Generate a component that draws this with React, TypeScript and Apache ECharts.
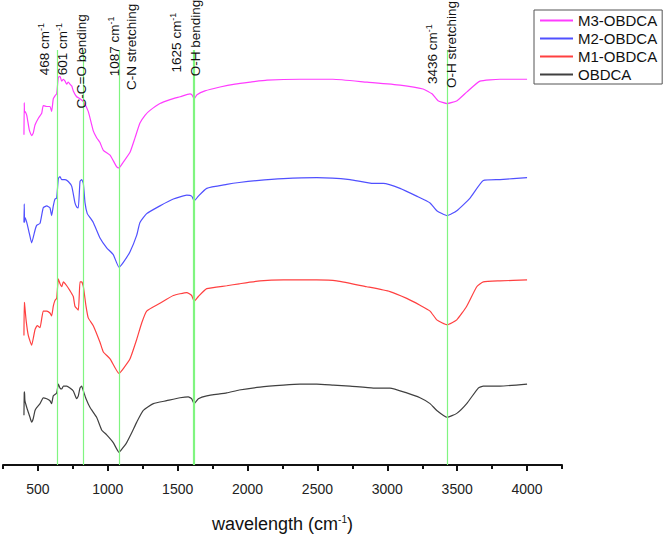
import React, { useEffect, useRef } from "react";
import * as echarts from "echarts";

// ---- data (wavenumber cm^-1, transmittance a.u. with vertical offsets) ----
const seriesNames = ["M3-OBDCA", "M2-OBDCA", "M1-OBDCA", "OBDCA"];
const seriesColors = ["#ff3cff", "#5050ff", "#ff4040", "#404040"];

const m3Spectrum = [
  [400, 339], [402, 372], [404, 362], [407, 363], [420, 359], [438, 344], [455, 338], [467, 341],
  [479, 349], [503, 356], [527, 361], [538, 369], [563, 368], [586, 368], [598, 363], [610, 376],
  [622, 379], [634, 381], [646, 398], [658, 399], [670, 394], [682, 396], [694, 394], [706, 391],
  [717, 393], [729, 391], [742, 389], [753, 384], [777, 378], [801, 376], [825, 373], [860, 363],
  [896, 343], [920, 336], [944, 331], [968, 323], [1016, 318], [1064, 306], [1080, 305], [1111, 311],
  [1159, 321], [1195, 336], [1230, 351], [1266, 359], [1302, 364], [1373, 371], [1445, 375], [1517, 378],
  [1588, 381], [1602, 380], [1618, 376], [1638, 380], [1695, 384], [1803, 388], [1910, 391], [2018, 393],
  [2139, 395], [2375, 396], [2611, 396], [2855, 393], [3091, 390], [3256, 386], [3320, 381], [3363, 374],
  [3428, 371], [3499, 374], [3570, 383], [3663, 394], [3806, 396], [4000, 396],
];

const m2Spectrum = [
  [400, 249], [402, 268], [404, 249], [407, 254], [420, 249], [438, 238], [455, 228], [479, 241],
  [491, 246], [515, 248], [538, 264], [563, 266], [586, 264], [598, 256], [610, 266], [622, 273],
  [634, 274], [646, 294], [658, 296], [670, 293], [694, 293], [717, 291], [742, 286], [765, 269],
  [777, 265], [789, 264], [801, 291], [813, 293], [825, 289], [837, 269], [853, 258], [873, 254],
  [896, 249], [944, 233], [992, 223], [1039, 216], [1080, 203], [1111, 208], [1159, 219], [1207, 236],
  [1230, 249], [1278, 258], [1373, 266], [1469, 273], [1565, 277], [1600, 276], [1618, 271], [1648, 276],
  [1708, 284], [1851, 288], [1940, 290], [2065, 292], [2256, 294], [2495, 295], [2733, 293], [2900, 289],
  [2971, 289], [3091, 284], [3210, 276], [3306, 269], [3354, 261], [3428, 256], [3497, 261], [3592, 274],
  [3687, 292], [3806, 293], [4000, 295],
];

const m1Spectrum = [
  [400, 133], [402, 167], [404, 166], [415, 149], [431, 133], [455, 123], [479, 139], [495, 143],
  [515, 141], [538, 158], [563, 158], [586, 156], [598, 153], [610, 163], [622, 169], [634, 171],
  [646, 191], [658, 186], [670, 183], [682, 188], [706, 184], [729, 179], [753, 173], [765, 163],
  [789, 159], [801, 188], [813, 188], [825, 183], [844, 163], [860, 151], [896, 143], [944, 126],
  [968, 116], [1016, 109], [1080, 94], [1111, 99], [1159, 109], [1207, 129], [1243, 146], [1278, 158],
  [1373, 166], [1469, 174], [1565, 177], [1600, 174], [1618, 168], [1648, 173], [1708, 181], [1851, 184],
  [1940, 186], [2089, 189], [2256, 190], [2495, 190], [2638, 189], [2853, 183], [3019, 178], [3139, 171],
  [3234, 164], [3306, 158], [3354, 149], [3428, 144], [3497, 149], [3568, 163], [3640, 183], [3687, 188],
  [3806, 189], [4000, 190],
];

const obdcaSpectrum = [
  [400, 51], [402, 74], [404, 75], [407, 66], [420, 59], [443, 49], [455, 44], [467, 48],
  [479, 56], [491, 59], [515, 63], [538, 69], [563, 68], [586, 66], [598, 63], [610, 71],
  [634, 74], [646, 83], [658, 79], [670, 78], [682, 81], [706, 81], [729, 79], [753, 76],
  [777, 68], [789, 71], [801, 79], [813, 81], [825, 76], [844, 68], [873, 59], [920, 49],
  [956, 36], [992, 31], [1039, 23], [1080, 13], [1099, 16], [1135, 23], [1171, 33], [1207, 44],
  [1254, 56], [1326, 63], [1421, 66], [1517, 69], [1576, 70], [1600, 68], [1618, 63], [1648, 68],
  [1708, 71], [1851, 74], [1940, 77], [2089, 80], [2256, 82], [2375, 83], [2495, 83], [2614, 82],
  [2733, 81], [2900, 79], [3019, 79], [3139, 74], [3234, 69], [3306, 63], [3354, 56], [3428, 49],
  [3497, 53], [3568, 63], [3651, 79], [3687, 81], [3806, 81], [4000, 83],
];

const spectra = [m3Spectrum, m2Spectrum, m1Spectrum, obdcaSpectrum];

const majorTicks = [500, 1000, 1500, 2000, 2500, 3000, 3500, 4000];
const minorTicks = [250, 750, 1250, 1750, 2250, 2750, 3250, 3750, 4250];

const peakLines = [640, 825, 1082, 1618, 3428];
const peakLineWidths = [1.2, 1.2, 1.2, 2.2, 1.2];

const annotationTexts = [
  "468 cm", "601 cm", "C-C=O bending", "1087 cm", "C-N stretching",
  "1625 cm", "O-H bending", "3436 cm", "O-H stretching",
];
const annotationSup = [true, true, false, true, false, true, false, true, false];
const annotationX = [550, 677, 815, 1051, 1173, 1495, 1624, 3325, 3461];
const annotationY = [400, 400, 366, 399, 385, 403, 399, 391, 387];

const FONT = "'Liberation Sans', Arial, Helvetica, sans-serif";

export default function App() {
  const ref = useRef<HTMLDivElement>(null);

  useEffect(() => {
    if (!ref.current) return;
    const chart = echarts.init(ref.current, undefined, { renderer: "svg" });

    const series: any[] = seriesNames.map((name, i) => ({
      name,
      type: "line",
      data: spectra[i],
      symbol: "none",
      showSymbol: false,
      smooth: 0.15,
      xAxisIndex: 0,
      yAxisIndex: 0,
      lineStyle: { color: seriesColors[i], width: 1.2 },
      itemStyle: { color: seriesColors[i] },
      z: 3,
    }));

    series.push({
      name: "peaks",
      type: "line",
      data: [],
      xAxisIndex: 0,
      yAxisIndex: 0,
      silent: true,
      z: 2,
      markLine: {
        silent: true,
        symbol: "none",
        label: { show: false },
        data: peakLines.map((w, i) => [
          { coord: [w, 426], lineStyle: { color: "#80f580", width: peakLineWidths[i], type: "solid" } },
          { coord: [w, 0] },
        ]),
      },
    });

    chart.setOption({
      animation: false,
      backgroundColor: "#ffffff",
      textStyle: { fontFamily: FONT },
      grid: { left: 3, right: 102, top: 50, bottom: 62, containLabel: false },
      legend: {
        data: seriesNames,
        orient: "vertical",
        left: 534,
        top: 10,
        padding: [3, 5, 2, 6],
        icon: "rect",
        itemWidth: 33,
        itemHeight: 2,
        itemGap: 3,
        borderColor: "#555",
        borderWidth: 1,
        borderRadius: 0,
        textStyle: { fontSize: 15, color: "#111", fontFamily: FONT },
      },
      xAxis: [
        {
          type: "value",
          min: 250,
          max: 4250,
          interval: 250,
          position: "bottom",
          name: "{a|wavelength (cm}{s|-1}{a|)}",
          nameLocation: "middle",
          nameGap: 49,
          nameTextStyle: {
            rich: {
              a: { fontSize: 18, color: "#111", fontFamily: FONT, lineHeight: 20 },
              s: { fontSize: 10, color: "#111", fontFamily: FONT, verticalAlign: "top", lineHeight: 20 },
            },
          },
          axisLine: { show: true, lineStyle: { color: "#111", width: 2 } },
          axisTick: {
            show: true,
            length: 6,
            customValues: majorTicks,
            lineStyle: { color: "#111", width: 2 },
          },
          axisLabel: {
            show: true,
            customValues: majorTicks,
            fontSize: 14,
            color: "#222",
            margin: 17,
            fontFamily: FONT,
            formatter: (v: number) => String(v),
          },
          splitLine: { show: false },
        },
        {
          type: "value",
          min: 250,
          max: 4250,
          interval: 250,
          position: "bottom",
          offset: 0,
          axisLine: { show: false },
          axisTick: {
            show: true,
            length: 4,
            customValues: minorTicks,
            lineStyle: { color: "#111", width: 2 },
          },
          axisLabel: { show: false },
          splitLine: { show: false },
        },
      ],
      yAxis: { type: "value", min: 0, max: 426, show: false, splitLine: { show: false } },
      series,
    });

    const graphics = annotationTexts.map((t, i) => {
      const px = chart.convertToPixel({ xAxisIndex: 0 } as any, annotationX[i]) as number;
      const py = chart.convertToPixel({ yAxisIndex: 0 } as any, annotationY[i]) as number;
      return {
        type: "text",
        x: px,
        y: py,
        rotation: Math.PI / 2,
        silent: true,
        z: 10,
        style: {
          text: annotationSup[i] ? `{a|${t}}{s|-1}` : `{a|${t}}`,
          align: "left",
          verticalAlign: "middle",
          fill: "#111",
          rich: {
            a: { fontSize: 13.5, fill: "#111", color: "#111", fontFamily: FONT, lineHeight: 16 },
            s: { fontSize: 9, fill: "#111", color: "#111", fontFamily: FONT, verticalAlign: "top", lineHeight: 16 },
          },
        },
      };
    });
    chart.setOption({ graphic: graphics });

    return () => chart.dispose();
  }, []);

  return (
    <div
      ref={ref}
      style={{ position: "fixed", left: 0, top: 0, width: 664, height: 538, background: "#fff" }}
    />
  );
}
